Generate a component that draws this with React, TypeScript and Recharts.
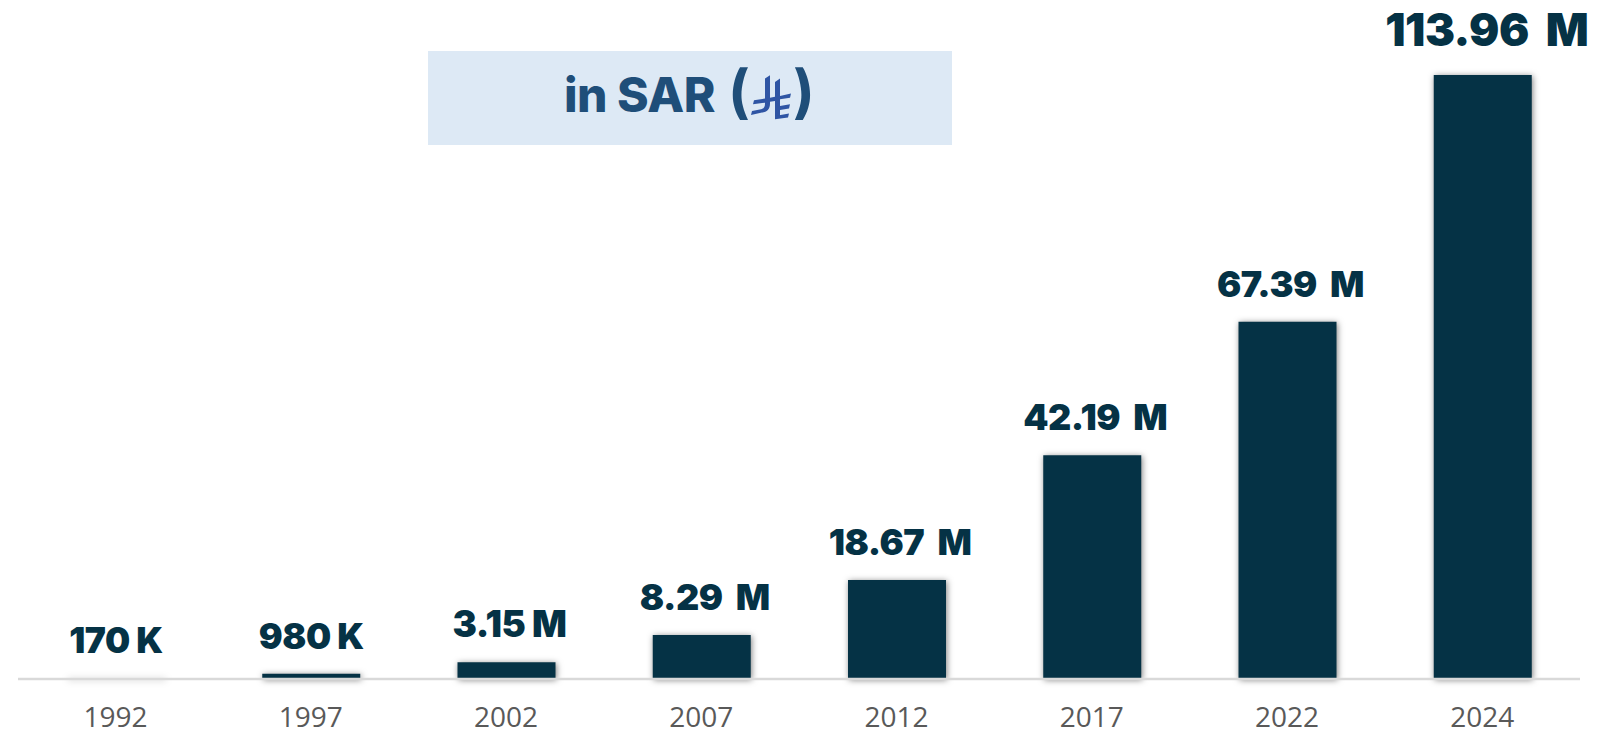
import React from 'react';
import { BarChart, Bar, XAxis, YAxis, LabelList, Rectangle } from 'recharts';

const years = ['1992', '1997', '2002', '2007', '2012', '2017', '2022', '2024'];
const values = [0.17, 0.98, 3.15, 8.29, 18.67, 42.19, 67.39, 113.96];
const valueLabels = ['170 K', '980 K', '3.15 M', '8.29\u00a0 M', '18.67\u00a0 M', '42.19\u00a0 M', '67.39\u00a0 M', '113.96\u00a0 M'];
const labelFontSizes = [35.5, 35.5, 36.5, 36, 36, 36, 36, 45];
const labelShiftX = [0, 0, 3, 3, 3, 3, 3, 4];
const labelGaps = [25, 25, 25, 25, 25, 25, 25, 29];

const rows = years.map((year, i) => ({ year, value: values[i] }));

const NAVY = '#053245';

const ValueLabel = (props: any) => {
  const { x, y, width, index } = props;
  return (
    <text
      x={x + width / 2 + labelShiftX[index]}
      y={y - labelGaps[index]}
      textAnchor="middle"
      fill={NAVY}
      fontFamily="Inter, sans-serif"
      fontWeight={900}
      fontSize={labelFontSizes[index]}
      letterSpacing={-0.5}
    >
      {valueLabels[index]}
    </text>
  );
};

const BarShape = (props: any) => (
  <Rectangle {...props} style={{ filter: 'drop-shadow(1px 1px 3px rgba(0,0,0,0.5))' }} />
);

const Badge = () => (
  <g>
    <rect x={428} y={51} width={524} height={94} fill="#DDE9F5" />
    <text
      x={564}
      y={112}
      fill="#1F4E79"
      fontFamily="Inter, sans-serif"
      fontWeight={800}
      fontSize={48}
      letterSpacing={-0.5}
    >
      in SAR
    </text>
    <text x={728} y={112} fill="#1F4E79" fontFamily="Inter, sans-serif" fontWeight={700} fontSize={58}>(</text>
    <g fill="#2F55A4" transform="translate(0 13) scale(1 0.83)">
      <path d="M765 79l5-4v34c0 7-3 10-8 11l-11 3 1-5 9-2c3-1 4-3 4-7z" />
      <path d="M775 83l5-4v45l-5 1z" />
      <path d="M754 105l11-2v5l-12 2z" />
      <path d="M770 102l5-1v5l-5 1z" />
      <path d="M780 100l11-3-1 5-10 2z" />
      <path d="M780 112l10-2-1 5-9 2z" />
      <path d="M775 124l14-3-1 5-13 2z" />
    </g>
    <text x={793} y={112} fill="#1F4E79" fontFamily="Inter, sans-serif" fontWeight={700} fontSize={58}>)</text>
  </g>
);

export default function App() {
  return (
    <div style={{ position: 'absolute', left: 0, top: 0 }}>
      <BarChart
        width={1614}
        height={735}
        data={rows}
        margin={{ top: 0, right: 34, bottom: 0, left: 18 }}
      >
        <YAxis hide domain={[0, 128.1]} />
        <XAxis
          dataKey="year"
          height={56}
          tickLine={false}
          tickMargin={22}
          axisLine={{ stroke: '#D9D9D9', strokeWidth: 2.5 }}
          tick={{ fill: '#595959', fontFamily: '"Open Sans", sans-serif', fontSize: 28 }}
          interval={0}
        />
        <Bar dataKey="value" barSize={98} fill={NAVY} isAnimationActive={false} shape={BarShape}>
          <LabelList dataKey="value" content={ValueLabel} />
        </Bar>
        <Badge />
      </BarChart>
    </div>
  );
}
